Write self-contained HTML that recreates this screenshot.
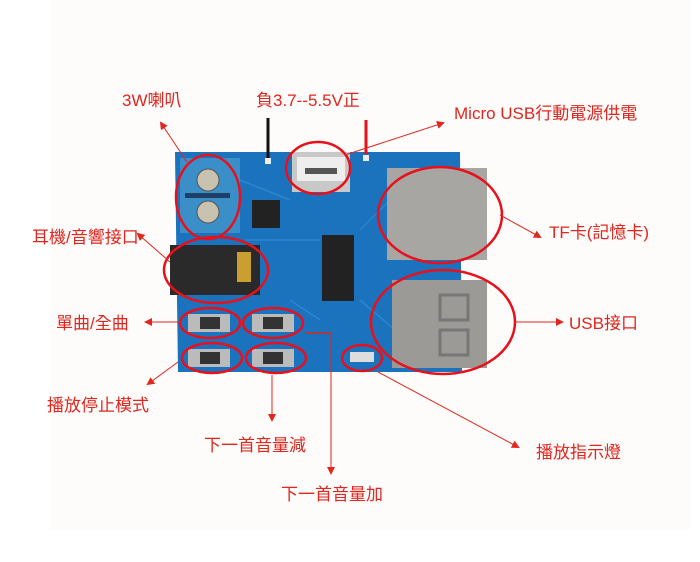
<!DOCTYPE html>
<html><head><meta charset="utf-8"><style>
html,body{margin:0;padding:0;background:#fff;}
svg{display:block}
text{font-family:"Liberation Sans","Noto Sans CJK TC",sans-serif;fill:#e0261e;font-size:17px}
</style></head><body>
<svg width="700" height="562" viewBox="0 0 700 562" xmlns="http://www.w3.org/2000/svg">
<defs>
<marker id="a" markerWidth="8" markerHeight="8" refX="6" refY="4" orient="auto" markerUnits="userSpaceOnUse"><path d="M0,0 L8,4 L0,8 Z" fill="#e0261e"/></marker>
</defs>
<rect x="50" y="0" width="640" height="530" fill="#fdfcfb"/>
<!-- board -->
<path d="M175,152 L460,152 L462,372 L178,372 Z" fill="#1b72bd"/>
<g stroke="#2a86cf" stroke-width="1.5" fill="none">
<path d="M245,240 L320,240"/><path d="M360,230 L390,200"/><path d="M360,300 L395,330"/><path d="M290,300 L320,320"/><path d="M240,180 L290,200"/>
</g>
<rect x="180" y="158" width="60" height="75" fill="#3a8fc9"/>
<circle cx="208" cy="180" r="11" fill="#c9c2b0" stroke="#555"/>
<circle cx="208" cy="212" r="11" fill="#c9c2b0" stroke="#555"/>
<rect x="185" y="193" width="45" height="5" fill="#1d3f66"/>
<rect x="170" y="245" width="90" height="50" fill="#2a2a2a"/>
<rect x="237" y="252" width="14" height="30" fill="#c9a030"/>
<rect x="292" y="152" width="58" height="40" fill="#c8c8c8"/>
<rect x="297" y="157" width="48" height="24" fill="#eee"/>
<rect x="305" y="168" width="32" height="6" fill="#555"/>
<rect x="387" y="168" width="100" height="92" fill="#a8a6a2"/>
<rect x="392" y="280" width="95" height="88" fill="#9c9a96"/>
<rect x="440" y="295" width="28" height="25" fill="none" stroke="#777" stroke-width="3"/>
<rect x="440" y="330" width="28" height="25" fill="none" stroke="#777" stroke-width="3"/>
<rect x="322" y="235" width="32" height="66" fill="#222"/>
<rect x="252" y="200" width="28" height="28" fill="#222"/>
<rect x="188" y="314" width="42" height="18" fill="#bbb"/><rect x="200" y="317" width="20" height="12" fill="#333"/>
<rect x="252" y="314" width="42" height="18" fill="#bbb"/><rect x="263" y="317" width="20" height="12" fill="#333"/>
<rect x="188" y="349" width="42" height="18" fill="#bbb"/><rect x="200" y="352" width="20" height="12" fill="#333"/>
<rect x="252" y="349" width="42" height="18" fill="#bbb"/><rect x="263" y="352" width="20" height="12" fill="#333"/>
<rect x="350" y="352" width="24" height="10" fill="#ddd"/>
<rect x="265" y="158" width="6" height="6" fill="#eee"/><rect x="363" y="155" width="6" height="6" fill="#eee"/>
<!-- ellipses -->
<g fill="none" stroke="#e8101a" stroke-width="2.5">
<ellipse cx="208" cy="197" rx="32" ry="42"/>
<ellipse cx="216" cy="270" rx="52" ry="33"/>
<ellipse cx="318" cy="168" rx="32" ry="26"/>
<ellipse cx="440" cy="215" rx="62" ry="48"/>
<ellipse cx="443" cy="322" rx="72" ry="52"/>
<ellipse cx="210" cy="323" rx="30" ry="15"/>
<ellipse cx="273" cy="323" rx="30" ry="15"/>
<ellipse cx="212" cy="358" rx="30" ry="15"/>
<ellipse cx="276" cy="358" rx="30" ry="15"/>
<ellipse cx="362" cy="358" rx="20" ry="13"/>
</g>
<line x1="268" y1="118" x2="268" y2="158" stroke="#111" stroke-width="3"/>
<line x1="366" y1="120" x2="366" y2="154" stroke="#e8101a" stroke-width="3"/>
<!-- connectors -->
<g stroke="#e0261e" stroke-width="1" marker-end="url(#a)">
<line x1="187" y1="162" x2="161" y2="123"/>
<line x1="345" y1="155" x2="443" y2="123"/>
<line x1="500" y1="215" x2="540" y2="237"/>
<line x1="170" y1="262" x2="138" y2="234"/>
<line x1="180" y1="322" x2="146" y2="322"/>
<line x1="515" y1="322" x2="562" y2="322"/>
<line x1="178" y1="362" x2="148" y2="384"/>
<line x1="272" y1="375" x2="272" y2="420"/>
<line x1="331" y1="333" x2="331" y2="473"/>
<line x1="378" y1="372" x2="518" y2="447"/>
</g>
<line x1="305" y1="333" x2="331" y2="333" stroke="#e0261e" stroke-width="1.5"/>
<!-- labels -->
<text x="122" y="106">3W喇叭</text>
<text x="256" y="106">負3.7--5.5V正</text>
<text x="454" y="119">Micro USB行動電源供電</text>
<text x="549" y="238">TF卡(記憶卡)</text>
<text x="32" y="243">耳機/音響接口</text>
<text x="56" y="329">單曲/全曲</text>
<text x="569" y="329">USB接口</text>
<text x="47" y="411">播放停止模式</text>
<text x="204" y="451">下一首音量減</text>
<text x="536" y="458">播放指示燈</text>
<text x="281" y="500">下一首音量加</text>
</svg>
</body></html>
